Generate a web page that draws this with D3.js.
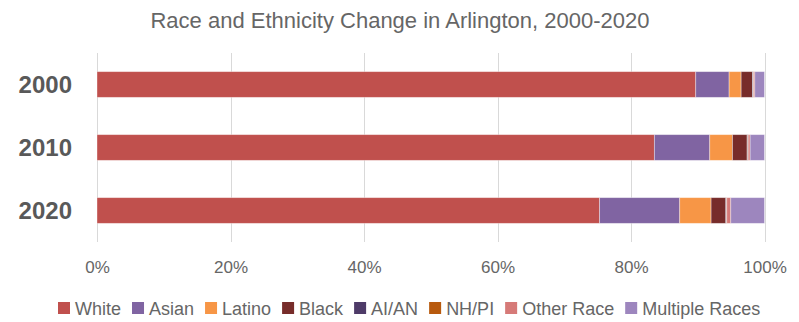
<!DOCTYPE html>
<html>
<head>
<meta charset="utf-8">
<script src="https://cdn.jsdelivr.net/npm/d3@7/dist/d3.min.js"></script>
<style>
  html, body { margin: 0; padding: 0; background: #fff; }
  svg { display: block; }
  text { font-family: "Liberation Sans", Arial, sans-serif; }
</style>
</head>
<body>
<svg id="chart" width="799" height="322"></svg>
<script>
// Share of population by group (percent) for each census year
const years = ["2000", "2010", "2020"];
const groups = ["White", "Asian", "Latino", "Black", "AI/AN", "NH/PI", "Other Race", "Multiple Races"];
const white    = [89.7, 83.5, 75.3];
const asian    = [5.0, 8.3, 12.0];
const latino   = [1.8, 3.4, 4.7];
const black    = [1.7, 2.2, 2.2];
const aian     = [0.1, 0.1, 0.1];
const nhpi     = [0.05, 0.05, 0.05];
const other    = [0.2, 0.3, 0.6];
const multiple = [1.45, 2.15, 5.05];
const tickValues = [0, 0.2, 0.4, 0.6, 0.8, 1.0];
const colors = ["#C0504D", "#8064A2", "#F79646", "#772C2A", "#4E3B68", "#B85A0E", "#D67A78", "#9D86BE"];

const seriesValues = [white, asian, latino, black, aian, nhpi, other, multiple];
const rows = years.map((y, i) => {
  const r = { year: y };
  groups.forEach((g, k) => { r[g] = seriesValues[k][i]; });
  return r;
});

const svg = d3.select("#chart");

const x = d3.scaleLinear().domain([0, 100]).range([97, 764.5]);
const y = d3.scaleBand().domain(years).range([53, 242]).paddingInner(0.592).paddingOuter(0.296);
const color = d3.scaleOrdinal().domain(groups).range(colors);

// Title
svg.append("text")
  .attr("x", 400).attr("y", 28)
  .attr("text-anchor", "middle")
  .attr("font-size", 22)
  .attr("fill", "#666")
  .text("Race and Ethnicity Change in Arlington, 2000-2020");

// Vertical gridlines
svg.append("g").selectAll("line")
  .data(tickValues)
  .join("line")
  .attr("x1", d => Math.round(x(d * 100)) + 0.5)
  .attr("x2", d => Math.round(x(d * 100)) + 0.5)
  .attr("y1", 53).attr("y2", 242)
  .attr("stroke", "#d9d9d9").attr("stroke-width", 1);

// Stacked bars
const stack = d3.stack().keys(groups);
const layers = stack(rows);
svg.append("g").selectAll("g")
  .data(layers)
  .join("g")
  .attr("fill", d => color(d.key))
  .selectAll("rect")
  .data(d => d)
  .join("rect")
  .attr("x", d => x(d[0]))
  .attr("width", d => x(d[1]) - x(d[0]))
  .attr("y", d => y(d.data.year))
  .attr("height", y.bandwidth())
  .attr("stroke", "rgba(255,255,255,0.45)")
  .attr("stroke-width", 0.8);

// Percent axis
const xAxis = d3.axisBottom(x)
  .tickValues(tickValues.map(v => v * 100))
  .tickFormat(d => d3.format(".0%")(d / 100))
  .tickSize(0).tickPadding(0);
const gx = svg.append("g").attr("transform", "translate(0,261)").call(xAxis);
gx.select(".domain").remove();
gx.selectAll("text").attr("font-size", 17).attr("fill", "#666")
  .attr("font-family", "\"Liberation Sans\", Arial, sans-serif");

// Year axis
const yAxis = d3.axisLeft(y).tickSize(0).tickPadding(0);
const gy = svg.append("g").attr("transform", "translate(72,1)").call(yAxis);
gy.select(".domain").remove();
gy.selectAll("text").attr("font-size", 24).attr("font-weight", "bold").attr("fill", "#595959")
  .attr("font-family", "\"Liberation Sans\", Arial, sans-serif");

// Legend
const legend = svg.append("g").attr("transform", "translate(58,302)");
let lx = 0;
groups.forEach(g => {
  const item = legend.append("g").attr("transform", `translate(${lx},0)`);
  item.append("rect").attr("width", 12).attr("height", 12).attr("fill", color(g));
  const t = item.append("text").attr("x", 17).attr("y", 13)
    .attr("font-size", 18).attr("fill", "#666").text(g);
  lx += 17 + t.node().getComputedTextLength() + 11;
});
</script>
</body>
</html>
